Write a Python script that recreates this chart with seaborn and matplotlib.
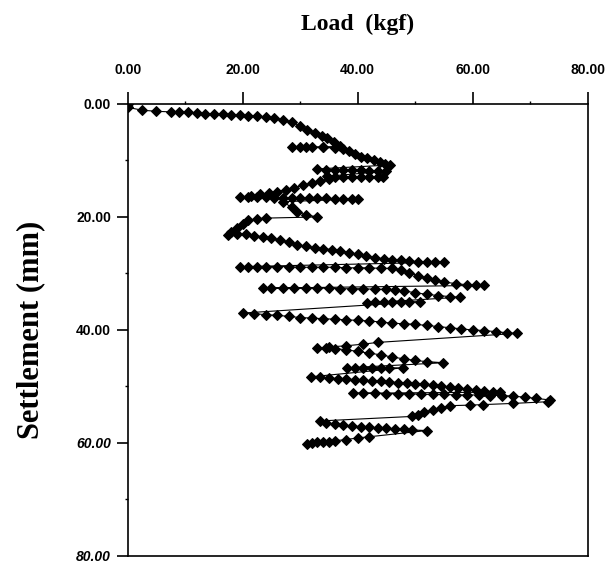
import numpy as np
import pandas as pd
import matplotlib
matplotlib.use("Agg")
import matplotlib.pyplot as plt
import seaborn as sns
from matplotlib.ticker import FormatStrFormatter, MultipleLocator

# load (kgf) / settlement (mm) readings, in test order, one list per loading stage
virgin = [(0, 0), (0, 0.6), (2.5, 1.1), (5, 1.3), (7.5, 1.4), (9, 1.5), (10.5, 1.5), (12, 1.6),
          (13.5, 1.7), (15, 1.8), (16.5, 1.8), (18, 1.9), (19.5, 2.0), (21, 2.1), (22.5, 2.2),
          (24, 2.3), (25.5, 2.5), (27, 2.8), (28.5, 3.2), (30, 3.9), (31.2, 4.6), (32.5, 5.1),
          (33.7, 5.6), (34.7, 6.0), (35.8, 6.8), (37, 7.5),
          (34, 7.6), (31, 7.6), (28.5, 7.7), (30, 7.7), (32, 7.7), (34, 7.7), (36, 7.8), (37.5, 7.9),
          (38.5, 8.4), (39.5, 8.9), (40.5, 9.3), (41.6, 9.6), (42.8, 10.0), (43.9, 10.3),
          (44.8, 10.6), (45.6, 10.8)]
stage_a = [(33, 11.5), (34.5, 11.6), (36, 11.7), (37.5, 11.7), (39, 11.7), (40.5, 11.7), (42, 11.8),
           (43.5, 11.8), (45, 11.9),
           (34.6, 12.8), (36, 12.9), (37.5, 12.9), (39, 12.9), (40.5, 12.9), (42, 13.0), (43.5, 13.0),
           (44.4, 13.0),
           (35, 13.3), (33.5, 13.6), (32, 14.0), (30.5, 14.4), (29, 14.8), (27.5, 15.2), (26, 15.5),
           (24.5, 15.8), (23, 16.0), (21.5, 16.3), (19.6, 16.5)]
stage_b = [(21, 16.5), (22.5, 16.5), (24, 16.5), (25.5, 16.6), (27, 16.6), (28.5, 16.6), (30, 16.6),
           (31.5, 16.7), (33, 16.7), (34.5, 16.7), (36, 16.8), (37.5, 16.8), (39, 16.8), (40, 16.8),
           (27, 17.3), (28.5, 18.3), (29.5, 19.2), (31, 19.6), (33, 20.0),
           (24, 20.2), (22.5, 20.3), (21, 20.6), (20, 21.2), (19, 22.0), (18, 22.7), (17.4, 23.2)]
stage_c = [(19, 23.0), (20.5, 23.1), (22, 23.3), (23.5, 23.5), (25, 23.8), (26.5, 24.1), (28, 24.5),
           (29.5, 24.9), (31, 25.2), (32.5, 25.5), (34, 25.6), (35.5, 25.8), (37, 26.0), (38.5, 26.3),
           (40, 26.6), (41.5, 26.9), (43, 27.2), (44.5, 27.4), (46, 27.6), (47.5, 27.7), (49, 27.8),
           (50.5, 27.9), (52, 27.9), (53.5, 28.0), (55, 28.0)]
stage_d = [(19.5, 28.8), (21, 28.8), (22.5, 28.8), (24, 28.8), (26, 28.8), (28, 28.8), (30, 28.9),
           (32, 28.9), (34, 28.9), (36, 28.9), (38, 29.0), (40, 29.0), (42, 29.0), (44, 29.1),
           (46, 29.1), (47.5, 29.4), (49, 29.9), (50.5, 30.4), (52, 30.8), (53.5, 31.2), (55, 31.5),
           (57, 31.8), (59, 32.0), (60.5, 32.1), (62, 32.1)]
stage_e = [(23.6, 32.6), (25, 32.6), (27, 32.6), (29, 32.6), (31, 32.6), (33, 32.6), (35, 32.6),
           (37, 32.7), (39, 32.7), (41, 32.7), (43, 32.8), (45, 32.8), (46.5, 32.9), (48, 33.1),
           (50, 33.4), (52, 33.7), (54, 33.9), (56, 34.1), (57.8, 34.2),
           (41.6, 35.2), (43, 35.1), (44.5, 35.1), (46, 35.0), (47.5, 35.0), (49, 35.0), (50.8, 35.0)]
stage_f = [(20.1, 37.0), (22, 37.1), (24, 37.3), (26, 37.4), (28, 37.6), (30, 37.8), (32, 37.9),
           (34, 38.0), (36, 38.1), (38, 38.2), (40, 38.3), (42, 38.4), (44, 38.6), (46, 38.8),
           (48, 38.9), (50, 39.0), (52, 39.2), (54, 39.4), (56, 39.6), (58, 39.8), (60, 40.0),
           (62, 40.1), (64, 40.3), (66, 40.5), (67.7, 40.6)]
stage_g = [(43.5, 42.2), (41, 42.5), (38, 42.8), (35, 43.0), (33, 43.2), (34.5, 43.2), (36, 43.3),
           (38, 43.5), (40, 43.8), (42, 44.1), (44, 44.4), (46, 44.8), (48, 45.1), (50, 45.4),
           (52, 45.6), (54.9, 45.8),
           (38.1, 46.7), (39.5, 46.7), (41, 46.7), (42.5, 46.7), (44, 46.7), (45.5, 46.7), (47.9, 46.7)]
stage_h = [(31.8, 48.3), (33.5, 48.4), (35, 48.5), (36.5, 48.6), (38, 48.7), (39.5, 48.8), (41, 48.9),
           (42.5, 49.0), (44, 49.1), (45.5, 49.2), (47, 49.3), (48.5, 49.4), (50, 49.5), (51.5, 49.6),
           (53, 49.7), (54.5, 49.9), (56, 50.1), (57.5, 50.3), (59, 50.5), (60.5, 50.6), (62, 50.8),
           (63.5, 50.9), (64.8, 51.0),
           (39.2, 51.2), (41, 51.2), (43, 51.2), (45, 51.3), (47, 51.3), (49, 51.3), (51, 51.4),
           (53, 51.4), (55, 51.4), (57, 51.5), (59, 51.5), (61, 51.5), (63, 51.6), (65, 51.6),
           (67, 51.7), (69, 51.9), (71, 52.1), (73.5, 52.4)]
stage_i = [(73, 52.7), (67, 53.0), (61.8, 53.2), (59.5, 53.3), (56, 53.4), (54.5, 53.8), (53, 54.2),
           (51.5, 54.6), (50.5, 55.0), (49.5, 55.3),
           (33.5, 56.1), (34.5, 56.4), (36, 56.7), (37.5, 56.9), (39, 57.0), (40.5, 57.1), (42, 57.2),
           (43.5, 57.3), (45, 57.4), (46.5, 57.5), (48, 57.6), (49.5, 57.7), (52, 57.8),
           (42, 58.9), (40, 59.1), (38, 59.4), (36, 59.6), (34, 59.8), (32, 60.0), (31.2, 60.1),
           (33, 59.9), (35, 59.8)]

ticks = [0, 20, 40, 60, 80]

stages = [virgin, stage_a, stage_b, stage_c, stage_d, stage_e, stage_f, stage_g, stage_h, stage_i]
pts = [p for s in stages for p in s]
df = pd.DataFrame(pts, columns=["load", "settlement"])

sns.set_style("ticks")
plt.rcParams["font.family"] = ["Liberation Sans", "DejaVu Sans"]
plt.rcParams.update({"text.color": "black", "axes.labelcolor": "black",
                     "xtick.color": "black", "ytick.color": "black"})

fig = plt.figure(figsize=(6.11, 5.70), dpi=100)
ax = fig.add_axes([0.209, 0.0246, 0.753, 0.793])

sns.lineplot(data=df, x="load", y="settlement", sort=False, estimator=None,
             color="black", linewidth=0.8, marker="D", markersize=5,
             markeredgecolor="black", markerfacecolor="black", ax=ax)

ax.set_xlim(0, 80)
ax.set_ylim(80, 0)
ax.xaxis.tick_top()
ax.xaxis.set_label_position("top")
ax.set_xticks(ticks)
ax.set_yticks(ticks)
ax.xaxis.set_minor_locator(MultipleLocator(10))
ax.yaxis.set_minor_locator(MultipleLocator(10))
ax.xaxis.set_major_formatter(FormatStrFormatter("%.2f"))
ax.yaxis.set_major_formatter(FormatStrFormatter("%.2f"))

for sp in ax.spines.values():
    sp.set_visible(True)
    sp.set_color("black")
    sp.set_linewidth(1.2)

ax.tick_params(axis="x", which="major", length=8.5, width=1.2, pad=11, labelsize=10,
               top=True, bottom=False)
ax.tick_params(axis="y", which="major", length=8, width=1.2, pad=4, labelsize=10,
               left=True, right=False)
ax.tick_params(which="minor", length=2, width=1, top=True, bottom=False, left=True, right=False)

for lab in ax.get_xticklabels() + ax.get_yticklabels():
    lab.set_fontweight("bold")
for lab in ax.get_yticklabels()[3:]:
    lab.set_style("italic")

ax.set_xlabel("Load  (kgf)", fontsize=17, fontweight="bold", family="Liberation Serif", labelpad=24)
ax.set_ylabel("Settlement (mm)", fontsize=22, fontweight="bold", family="Liberation Serif", labelpad=22)

fig.savefig("out.png", dpi=100)
